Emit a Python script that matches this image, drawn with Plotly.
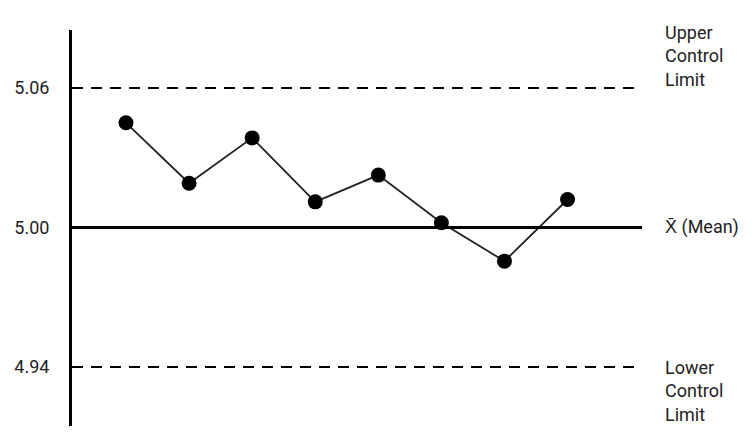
import plotly.graph_objects as go

# sample means plotted on the control chart
samples = [1, 2, 3, 4, 5, 6, 7, 8]
sample_means = [5.045, 5.019, 5.0385, 5.011, 5.0225, 5.002, 4.9855, 5.012]

# control limits and centre line
center_line = 5.00
upper_limit = 5.06
lower_limit = 4.94

tick_vals = [4.94, 5.00, 5.06]
tick_text = ["4.94", "5.00", "5.06"]

font_family = "Roboto, Arial, sans-serif"

fig = go.Figure()

# mean line (solid) and the two limits (dashed)
fig.add_hline(y=center_line, line=dict(color="black", width=3))
for lim in [upper_limit, lower_limit]:
    fig.add_hline(y=lim, line=dict(color="black", width=2, dash="11px,8px"))

fig.add_trace(go.Scatter(
    x=samples, y=sample_means, mode="lines+markers",
    line=dict(color="#222222", width=1.8),
    marker=dict(color="black", size=15),
    showlegend=False, hoverinfo="skip"))

# labels on the right side
labels = [
    dict(y=upper_limit, text="Upper<br>Control<br>Limit", yshift=32),
    dict(y=center_line, text="X\u0304 (Mean)", yshift=0),
    dict(y=lower_limit, text="Lower<br>Control<br>Limit", yshift=-24),
]
for lb in labels:
    fig.add_annotation(x=1, xref="paper", y=lb["y"], yref="y", text=lb["text"],
                       showarrow=False, xanchor="left", yanchor="middle",
                       align="left", xshift=21, yshift=lb["yshift"],
                       font=dict(family=font_family, size=18, color="#222222"))

fig.update_xaxes(range=[0.144, 9.18], visible=False)
fig.update_yaxes(range=[4.9146, 5.0849], tickvals=tick_vals, ticktext=tick_text,
                 showgrid=False, zeroline=False, showline=True,
                 linecolor="black", linewidth=3, ticks="",
                 ticklabelstandoff=16, automargin=False,
                 tickfont=dict(family=font_family, size=18, color="#222222"))

# the page adds an 8px body margin, so the margins are trimmed to match
fig.update_layout(
    width=755, height=442,
    margin=dict(l=64, r=121, t=22, b=24),
    plot_bgcolor="white", paper_bgcolor="white",
)

fig.write_html("out.html")
